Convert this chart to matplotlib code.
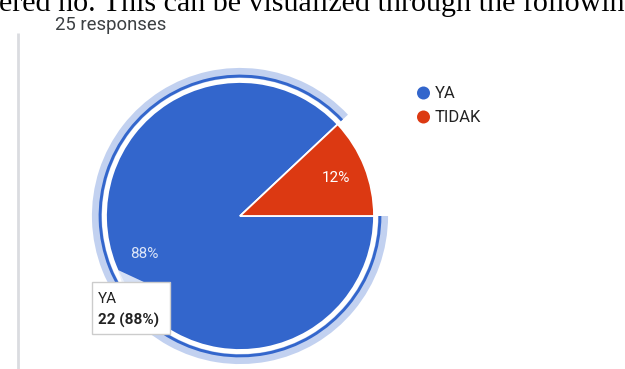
import matplotlib
matplotlib.use("Agg")
import matplotlib.pyplot as plt
from matplotlib.patches import Wedge, Circle, FancyBboxPatch, Polygon

# Survey answers
categories = ["YA", "TIDAK"]
counts = [22, 3]
colors = ["#3366cc", "#dc3912"]
header_text = "ered no. This can be visualized through the following"
subtitle = "25 responses"

W, H = 625, 369
fig = plt.figure(figsize=(W / 100, H / 100), dpi=100)
ax = fig.add_axes([0, 0, 1, 1])

total = sum(counts)
start = 360.0 * counts[1] / total
cx, cy, R = 240, H - 216, 134

wedges, texts, autotexts = ax.pie(
    counts, colors=colors, startangle=start, counterclock=True,
    center=(cx, cy), radius=R, frame=True,
    autopct=lambda p: f"{p:.0f}%", pctdistance=0.77,
    wedgeprops=dict(edgecolor="white", linewidth=1.3),
    textprops=dict(family="Roboto", fontsize=11, color="white"),
)
autotexts[0].set_color("#dce5f8")
ax.set_xlim(0, W)
ax.set_ylim(0, H)
ax.set_aspect("equal")
ax.axis("off")

# Hover highlight around the selected slice
w0 = wedges[0]
ax.add_patch(Wedge((cx, cy), R * 1.105, w0.theta1, w0.theta2,
                   width=R * 0.075, facecolor="#c2d1f0", edgecolor="none"))
ax.add_patch(Wedge((cx, cy), R * 1.055, w0.theta1, w0.theta2,
                   width=R * 0.022, facecolor="#3366cc", edgecolor="none"))

# Header text and subtitle
ax.text(-1, H - 11, header_text, family="Liberation Serif", fontsize=21.6,
        color="black", ha="left", va="baseline")
ax.text(55, H - 30, subtitle, family="Roboto", fontsize=13.3,
        color="#3c4043", ha="left", va="baseline")
ax.plot([18, 18], [0, H - 33], color="#dadce0", linewidth=2,
        solid_capstyle="butt")

# Legend
for i, (lab, col) in enumerate(zip(categories, colors)):
    y = H - (93 + 24 * i)
    ax.add_patch(Circle((423.5, y), 6.5, facecolor=col, edgecolor="none"))
    ax.text(435, y, lab, family="Roboto", fontsize=12, color="#222222",
            ha="left", va="center")

# Tooltip
ax.add_patch(Polygon([[118, H - 270], [122, H - 283], [146, H - 283]],
                     closed=True, facecolor="#e8eefa", edgecolor="none",
                     alpha=0.9))
ax.add_patch(FancyBboxPatch((92, H - 334), 78, 52,
                            boxstyle="square,pad=0", facecolor="white",
                            edgecolor="#cccccc", linewidth=1))
pct = 100 * counts[0] / total
ax.text(98, H - 299, categories[0], family="Roboto", fontsize=11,
        color="#222222", ha="left", va="center")
ax.text(98, H - 320, f"{counts[0]} ({pct:.0f}%)", family="Roboto",
        fontsize=11, fontweight="bold", color="#222222", ha="left",
        va="center")

fig.savefig("out.png", dpi=100)
